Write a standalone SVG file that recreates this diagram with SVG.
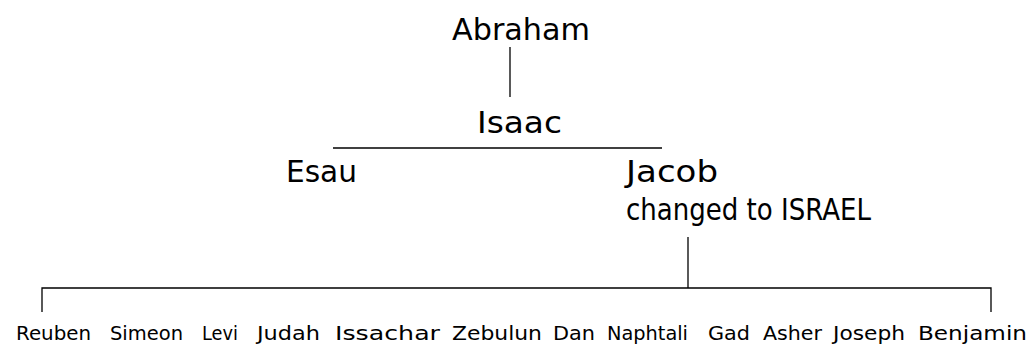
<svg xmlns="http://www.w3.org/2000/svg" width="1031" height="346" viewBox="0 0 1031 346">
<style>
.big{font-family:"DejaVu Sans","Noto Sans",sans-serif;font-size:30px;fill:#000}
.small{font-family:"DejaVu Sans","Noto Sans",sans-serif;font-size:20px;fill:#000}
.ln{stroke:#000;stroke-width:1.3;fill:none}
</style>
<rect width="1031" height="346" fill="#fff"/>
<g id="connectors">
<line class="ln" x1="510" y1="47" x2="510" y2="97"/>
<line class="ln" x1="333" y1="148" x2="662" y2="148"/>
<line class="ln" x1="688" y1="237" x2="688" y2="288"/>
<polyline class="ln" points="42,312 42,288 991,288 991,312"/>
</g>
<g id="abraham"><text class="big" x="452" y="40" textLength="138" lengthAdjust="spacingAndGlyphs">Abraham</text></g>
<g id="isaac"><text class="big" x="477" y="133" textLength="85" lengthAdjust="spacingAndGlyphs">Isaac</text></g>
<g id="esau"><text class="big" x="286" y="182" textLength="71" lengthAdjust="spacingAndGlyphs">Esau</text></g>
<g id="jacob">
<text class="big" x="626" y="182" textLength="92" lengthAdjust="spacingAndGlyphs">Jacob</text>
<text class="big" x="626" y="220" textLength="245" lengthAdjust="spacingAndGlyphs">changed to ISRAEL</text>
</g>
<g id="tribes">
<text class="small" x="16" y="340" textLength="75" lengthAdjust="spacingAndGlyphs">Reuben</text>
<text class="small" x="110" y="340" textLength="73" lengthAdjust="spacingAndGlyphs">Simeon</text>
<text class="small" x="202" y="340" textLength="36" lengthAdjust="spacingAndGlyphs">Levi</text>
<text class="small" x="257" y="340" textLength="63" lengthAdjust="spacingAndGlyphs">Judah</text>
<text class="small" x="335" y="340" textLength="105" lengthAdjust="spacingAndGlyphs">Issachar</text>
<text class="small" x="452" y="340" textLength="90" lengthAdjust="spacingAndGlyphs">Zebulun</text>
<text class="small" x="553" y="340" textLength="42" lengthAdjust="spacingAndGlyphs">Dan</text>
<text class="small" x="607" y="340" textLength="81" lengthAdjust="spacingAndGlyphs">Naphtali</text>
<text class="small" x="708" y="340" textLength="42" lengthAdjust="spacingAndGlyphs">Gad</text>
<text class="small" x="763" y="340" textLength="59" lengthAdjust="spacingAndGlyphs">Asher</text>
<text class="small" x="833" y="340" textLength="72" lengthAdjust="spacingAndGlyphs">Joseph</text>
<text class="small" x="918" y="340" textLength="109" lengthAdjust="spacingAndGlyphs">Benjamin</text>
</g>
</svg>
